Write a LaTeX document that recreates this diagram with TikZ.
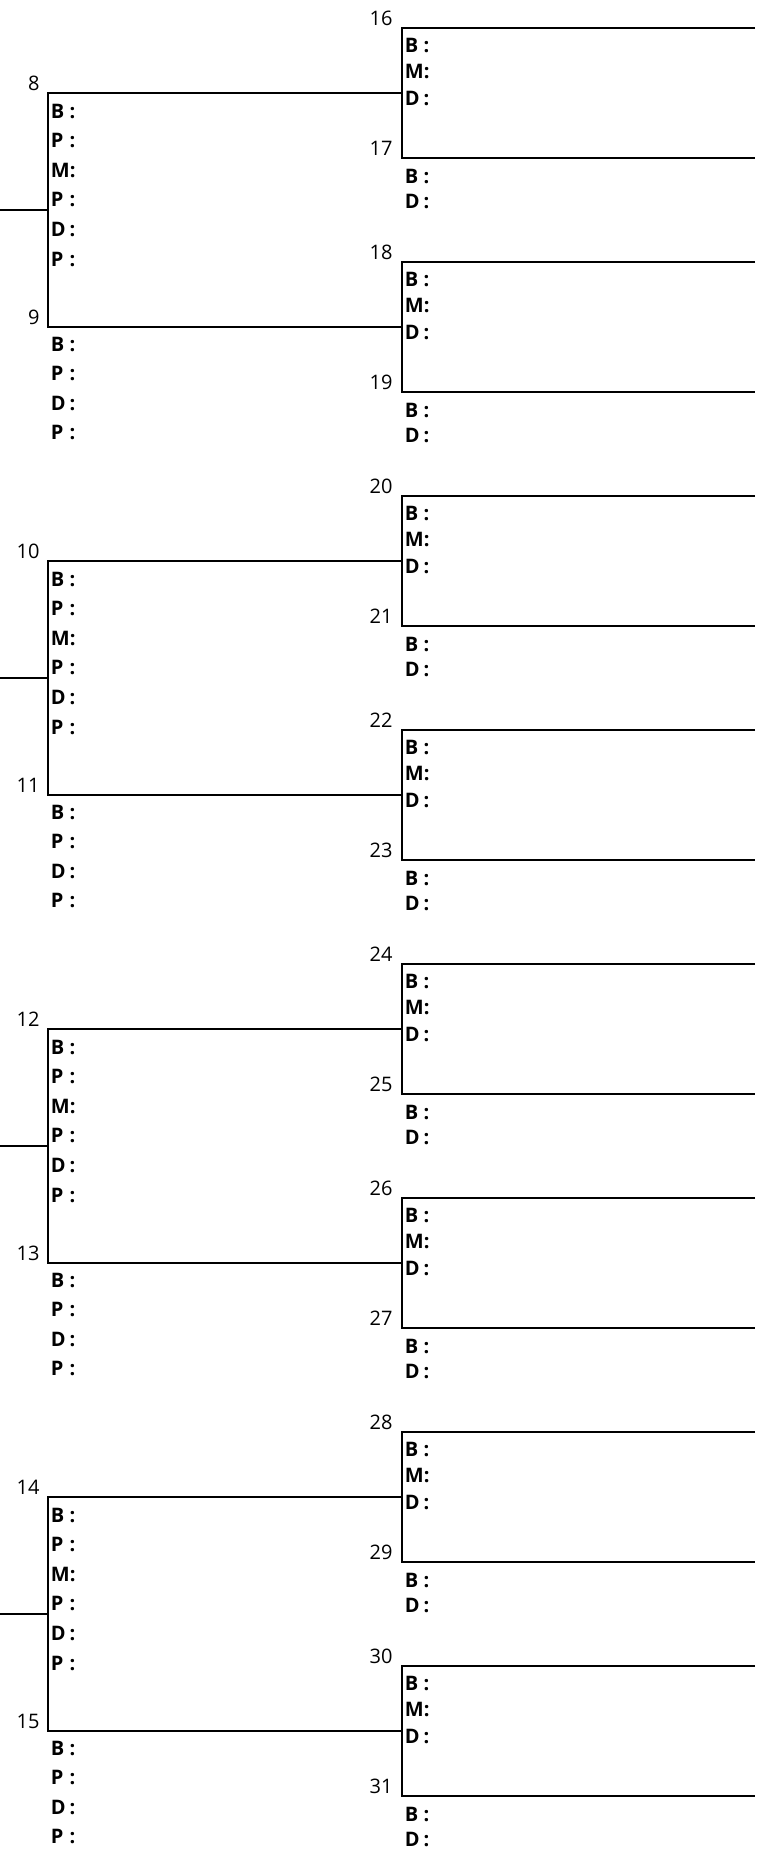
\documentclass[tikz,border=0pt]{standalone}
\usepackage{fontspec}
\setmainfont{Open Sans}
\usepackage{calc}
\usetikzlibrary{positioning}

\newcommand{\fld}[1]{\textbf{\makebox[\widthof{\textbf{M}}][l]{#1}:}}

\begin{document}
\begin{tikzpicture}[x=0.5pt,y=-0.5pt,font=\fontsize{10}{12}\selectfont,
   bline/.style={line width=0.85pt},
   seed/.style={inner sep=0pt},
   fld/.style={inner sep=0pt,anchor=west}]
  \useasboundingbox (0,0) rectangle (762,1849);
  % first column: seeds 8--15
  \foreach \g in {0,...,3}{
    \pgfmathtruncatemacro{\na}{8+2*\g}
    \pgfmathtruncatemacro{\nb}{9+2*\g}
    \coordinate (in\g) at (0,{210+468*\g});
    \coordinate (lm\g) at (48,{210+468*\g});
    \coordinate (lt\g) at (48,{93+468*\g});
    \coordinate (lb\g) at (48,{327+468*\g});
    \coordinate (rt\g) at (402,{93+468*\g});
    \coordinate (rb\g) at (402,{327+468*\g});
    \node[seed,above left=1pt and 4pt of lt\g] (n\na) {\na};
    \node[seed,above left=1pt and 4pt of lb\g] (n\nb) {\nb};
    \foreach \t [count=\k from 0] in {B,P,M,P,D,P}
      \node[fld] (f\na-\k) at (50.5,{93+468*\g+18+29.6*\k}) {\fld{\t}};
    \foreach \t [count=\k from 0] in {B,P,D,P}
      \node[fld] (f\nb-\k) at (50.5,{327+468*\g+17+29.6*\k}) {\fld{\t}};
    \draw[bline] (in\g) -- (lm\g);
    \draw[bline] (rt\g) -- (lt\g) -- (lb\g) -- (rb\g);
  }
  % second column: seeds 16--31
  \foreach \j in {0,...,7}{
    \pgfmathtruncatemacro{\na}{16+2*\j}
    \pgfmathtruncatemacro{\nb}{17+2*\j}
    \coordinate (qt\j) at (402,{28+234*\j});
    \coordinate (qb\j) at (402,{158+234*\j});
    \coordinate (et\j) at (755,{28+234*\j});
    \coordinate (eb\j) at (755,{158+234*\j});
    \node[seed,above left=1pt and 4.5pt of qt\j] (n\na) {\na};
    \node[seed,above left=1pt and 4.5pt of qb\j] (n\nb) {\nb};
    \foreach \t [count=\k from 0] in {B,M,D}
      \node[fld] (f\na-\k) at (404.5,{28+234*\j+17+26.5*\k}) {\fld{\t}};
    \foreach \t [count=\k from 0] in {B,D}
      \node[fld] (f\nb-\k) at (404.5,{158+234*\j+18+25*\k}) {\fld{\t}};
    \draw[bline] (et\j) -- (qt\j) -- (qb\j) -- (eb\j);
  }
\end{tikzpicture}
\end{document}
